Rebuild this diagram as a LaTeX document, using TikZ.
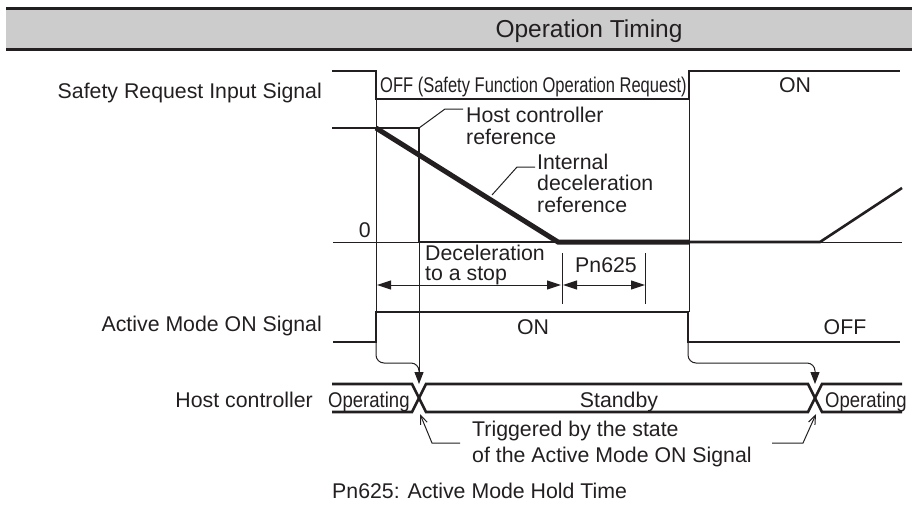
\documentclass[tikz,border=0pt]{standalone}
\usepackage{fontspec}
\setmainfont{Liberation Sans}
\usetikzlibrary{arrows.meta}
\definecolor{ink}{HTML}{231F20}
\definecolor{band}{HTML}{CCCCCC}
\begin{document}
\begin{tikzpicture}[x=1pt,y=-1pt,
  lbl/.style={inner sep=0pt, text=ink, font=\fontsize{21.3}{25}\selectfont, text height=15.2pt, text depth=0pt},
  fine/.style={draw=ink, line width=1pt},
  sig/.style={draw=ink, line width=2.6pt},
  heavy/.style={draw=ink, line width=5pt},
  dim/.style={fine, {Triangle[length=14pt,width=9pt]}-{Triangle[length=14pt,width=9pt]}},
  trig/.style={fine, -{Triangle[length=12pt,width=9pt]}},
  barb/.style={fine, -{Straight Barb[length=9pt,width=7pt]}}
]
\useasboundingbox (0,0) rectangle (912,504);
% header
\fill[band] (6,8) rectangle (912,49);
\draw[ink, line width=3pt] (6,8) -- (912,8);
\draw[ink, line width=3pt] (6,49) -- (912,49);
\node[lbl, font=\fontsize{24.5}{28}\selectfont, text height=17.5pt] (title) at (589,29) {Operation Timing};
% row labels
\node[lbl, anchor=east] (lsafe) at (322,91) {Safety Request Input Signal};
\node[lbl, anchor=east] (lact) at (322,324) {Active Mode ON Signal};
\node[lbl, anchor=east] (lhost) at (313,400) {Host controller};
\node[lbl, anchor=east] (lzero) at (371,230) {0};
% safety request input signal
\draw[sig] (332,71) -- (376,71) -- (376,99) -- (689,99) -- (689,71) -- (900,71);
\node[lbl, anchor=west] (off) at (380,85) {\scalebox{0.775}[1]{OFF (Safety Function Operation Request)}};
\node[lbl] (on1) at (795,85) {ON};
% thin guide verticals
\draw[fine] (376,99) -- (376,312);
\draw[fine] (689,99) -- (689,312);
% speed graph
\draw[fine] (333,242) -- (902,242);
\draw[sig] (332,128) -- (419,128) -- (419,242) -- (558,242);
\draw[sig] (689,242) -- (820,242) -- (902,188);
\draw[heavy] (376,128) -- (558,242) -- (689,242);
% leaders
\draw[fine] (419,128) -- (445,109) -- (463,109);
\node[lbl, anchor=west] (hr1) at (466,115) {Host controller};
\node[lbl, anchor=west] (hr2) at (466,137) {reference};
\draw[fine] (492,195) -- (517,167) -- (535,167);
\node[lbl, anchor=west] (id1) at (537,162) {Internal};
\node[lbl, anchor=west] (id2) at (537,183) {deceleration};
\node[lbl, anchor=west] (id3) at (537,205) {reference};
% dimensions
\draw[dim] (377,285) -- (561,285);
\draw[fine] (562,253) -- (562,304);
\draw[fine] (645,253) -- (645,304);
\draw[dim] (563,285) -- (645,285);
\node[lbl, anchor=west] (dec1) at (425,253) {Deceleration};
\node[lbl, anchor=west] (dec2) at (425,273) {to a stop};
\node[lbl, anchor=west] (pn) at (575,265) {Pn625};
% active mode on signal
\draw[sig] (333,342) -- (376,342) -- (376,312) -- (688,312) -- (688,342) -- (900,342);
\node[lbl] (on2) at (533,327) {ON};
\node[lbl] (off2) at (845,327) {OFF};
% trigger arrows
\draw[trig] (419,242) -- (419,384);
\draw[fine, rounded corners=8pt] (376,342) -- (376,363) -- (419,363) -- (419,376);
\draw[trig, rounded corners=8pt] (688,342) -- (688,363) -- (815,363) -- (815,384);
% host controller bus
\draw[sig] (332,384) -- (412,384) -- (426,412) -- (808,412) -- (822,384) -- (902,384);
\draw[sig] (332,412) -- (412,412) -- (426,384) -- (808,384) -- (822,412) -- (902,412);
\node[lbl, anchor=west] (op1) at (328,400) {\scalebox{0.87}[1]{Operating}};
\node[lbl] (sb) at (619,400) {Standby};
\node[lbl, anchor=west] (op2) at (825,400) {\scalebox{0.87}[1]{Operating}};
% triggered note
\draw[barb] (460,443) -- (432,443) -- (420,414);
\draw[barb] (772,443) -- (803,443) -- (816,414);
\node[lbl, anchor=west] (tr1) at (472,429) {Triggered by the state};
\node[lbl, anchor=west] (tr2) at (472,455) {of the Active Mode ON Signal};
\node[lbl, anchor=west] (foot) at (332,491) {Pn625: Active Mode Hold Time};
\end{tikzpicture}
\end{document}
